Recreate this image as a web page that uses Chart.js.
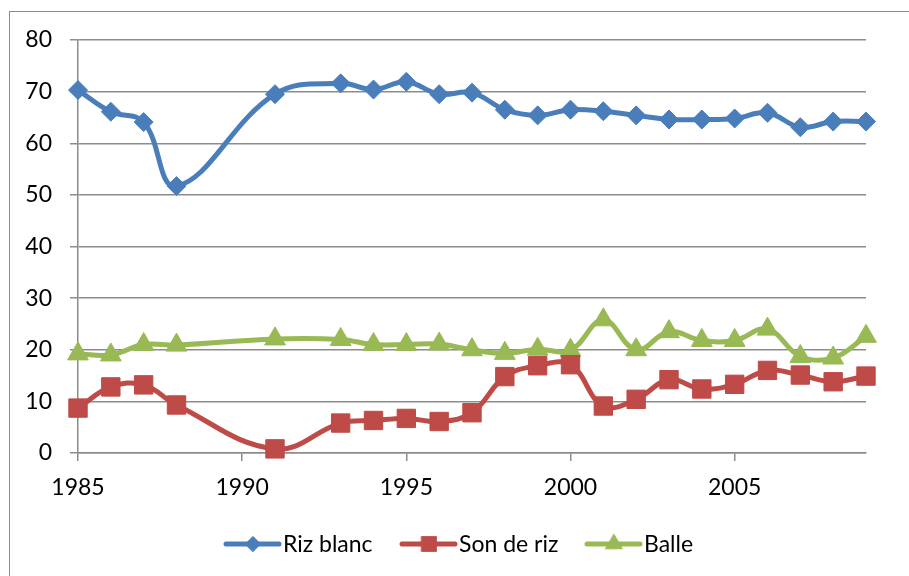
<!DOCTYPE html>
<html>
<head>
<meta charset="utf-8">
<script src="https://cdn.jsdelivr.net/npm/chart.js@4/dist/chart.umd.min.js"></script>
<style>
  html, body { margin: 0; padding: 0; background: #fff; }
  #wrap { width: 909px; height: 576px; position: relative; }
</style>
</head>
<body>
<div id="wrap"><canvas id="chart" width="909" height="576"></canvas></div>
<script>
// years (gaps at 1989, 1990, 1992)
const years = [1985, 1986, 1987, 1988, 1991, 1993, 1994, 1995, 1996, 1997, 1998, 1999,
               2000, 2001, 2002, 2003, 2004, 2005, 2006, 2007, 2008, 2009];

const rizBlanc = [70.3, 66.1, 64.1, 51.7, 69.5, 71.6, 70.4, 71.9, 69.5, 69.8, 66.5, 65.4,
                  66.5, 66.2, 65.4, 64.6, 64.6, 64.8, 65.9, 63.1, 64.2, 64.2];
const sonDeRiz = [8.7, 12.8, 13.2, 9.3, 0.8, 5.8, 6.3, 6.7, 6.1, 7.8, 14.8, 16.9,
                  17.1, 9.1, 10.4, 14.2, 12.4, 13.3, 16.0, 15.1, 13.8, 14.9];
const balle = [19.2, 19.0, 21.0, 20.9, 22.1, 22.0, 21.0, 21.0, 21.1, 20.0, 19.3, 20.1,
               19.9, 25.8, 20.0, 23.5, 21.8, 21.8, 24.0, 18.7, 18.4, 22.6];

const seriesNames = ['Riz blanc', 'Son de riz', 'Balle'];
const xTicks = [1985, 1990, 1995, 2000, 2005];
const yTicks = [0, 10, 20, 30, 40, 50, 60, 70, 80];

const BLUE = '#4A7EBB';
const RED = '#BE4B48';
const GREEN = '#98B954';
const GRID = '#8c8c8c';
const FONT = 'Lato, "Open Sans", sans-serif';

function toPoints(vals) {
    return years.map((yr, i) => ({ x: yr, y: vals[i] }));
}

function makeSet(label, vals, color, style, radius) {
    return {
        label: label,
        data: toPoints(vals),
        borderColor: color,
        backgroundColor: color,
        borderWidth: 5,
        tension: 0.4,
        pointStyle: style,
        pointRadius: radius,
        pointHoverRadius: radius,
        pointBorderWidth: 1,
        pointBackgroundColor: color,
        pointBorderColor: color,
        clip: false
    };
}

// Excel style legend: short line with the marker in the middle
const legendPlugin = {
    id: 'xlLegend',
    afterDraw(chart) {
        const ctx = chart.ctx;
        const y = 544;
        const starts = [226, 402, 587];
        ctx.save();
        ctx.font = '23px ' + FONT;
        ctx.textBaseline = 'middle';
        chart.data.datasets.forEach((ds, i) => {
            const x0 = starts[i];
            ctx.strokeStyle = ds.borderColor;
            ctx.lineWidth = 5;
            ctx.lineCap = 'round';
            ctx.beginPath();
            ctx.moveTo(x0, y);
            ctx.lineTo(x0 + 53, y);
            ctx.stroke();
            ctx.fillStyle = ds.borderColor;
            ctx.strokeStyle = ds.borderColor;
            ctx.lineWidth = 1;
            Chart.helpers.drawPoint(ctx, {
                pointStyle: ds.pointStyle,
                radius: ds.pointRadius * 0.8,
                rotation: 0,
                borderWidth: 1
            }, x0 + 27, y);
            ctx.fillStyle = '#000';
            ctx.fillText(ds.label, x0 + 57, y + 1);
        });
        ctx.restore();
    }
};

// thin outer frame of the chart object
const framePlugin = {
    id: 'frame',
    beforeDraw(chart) {
        const ctx = chart.ctx;
        ctx.save();
        ctx.strokeStyle = '#8c8c8c';
        ctx.lineWidth = 1;
        ctx.strokeRect(9.5, 11.5, 920, 600);
        ctx.restore();
    }
};

new Chart(document.getElementById('chart'), {
    type: 'line',
    data: {
        datasets: [
            makeSet(seriesNames[0], rizBlanc, BLUE, 'rectRot', 9.5),
            makeSet(seriesNames[1], sonDeRiz, RED, 'rect', 13),
            makeSet(seriesNames[2], balle, GREEN, 'triangle', 12)
        ]
    },
    options: {
        responsive: false,
        animation: false,
        layout: { padding: { top: 40, right: 43, left: 0, bottom: 0 } },
        plugins: {
            legend: { display: false },
            tooltip: { enabled: false }
        },
        scales: {
            x: {
                type: 'linear',
                min: 1985,
                max: 2009,
                afterBuildTicks: scale => { scale.ticks = xTicks.map(v => ({ value: v })); },
                afterFit: scale => { scale.height = 123; },
                grid: {
                    drawOnChartArea: false,
                    drawTicks: true,
                    tickLength: 8,
                    color: GRID,
                    lineWidth: 1.5
                },
                border: { color: GRID, width: 1.5 },
                ticks: {
                    color: '#000',
                    font: { family: FONT, size: 23 },
                    padding: 13,
                    maxRotation: 0,
                    callback: v => String(v)
                }
            },
            y: {
                min: 0,
                max: 80,
                afterBuildTicks: scale => { scale.ticks = yTicks.map(v => ({ value: v })); },
                afterFit: scale => { scale.width = 78; },
                grid: {
                    color: GRID,
                    lineWidth: 1.5,
                    tickLength: 8
                },
                border: { color: GRID, width: 1.5 },
                ticks: {
                    color: '#000',
                    font: { family: FONT, size: 23 },
                    padding: 18
                }
            }
        }
    },
    plugins: [framePlugin, legendPlugin]
});
</script>
</body>
</html>
